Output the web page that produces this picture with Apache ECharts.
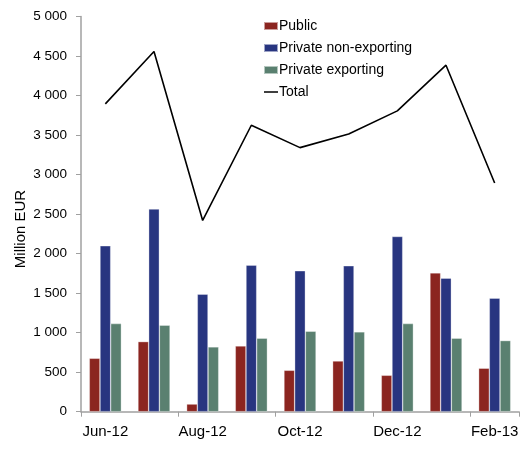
<!DOCTYPE html>
<html>
<head>
<meta charset="utf-8">
<script src="https://cdn.jsdelivr.net/npm/echarts@6/dist/echarts.min.js"></script>
<style>
  html, body { margin: 0; padding: 0; background: #fff; }
  #chart { width: 524px; height: 458px; }
</style>
</head>
<body>
<div id="chart"></div>
<script>
// Monthly flows by sector, million EUR
const months = ['Jun-12', 'Jul-12', 'Aug-12', 'Sep-12', 'Oct-12', 'Nov-12', 'Dec-12', 'Jan-13', 'Feb-13'];
const publicVals = [676, 887, 97, 832, 524, 642, 461, 1757, 550];
const privateNonExporting = [2099, 2564, 1487, 1855, 1783, 1846, 2217, 1690, 1437];
const privateExporting = [1115, 1094, 820, 930, 1018, 1010, 1115, 930, 900];
const totalVals = [3895, 4557, 2420, 3624, 3341, 3514, 3806, 4384, 2894];
const yTicks = { min: 0, max: 5000, step: 500 };

const font = 'Liberation Sans, Arial, sans-serif';
const chart = echarts.init(document.getElementById('chart'), null, { renderer: 'canvas' });

function fmtThousands(v) {
  return String(v).replace(/\B(?=(\d{3})+(?!\d))/g, ' ');
}

const barStyle = (color) => ({ color: color, borderColor: 'rgba(255,255,255,0.55)', borderWidth: 0.6 });

// thin horizontal stroke inside a 14x8 box, used as the legend key for the line series
const lineKey = 'path://M0,3.3H14V4.7H0Z M0,0H0.01V0.01H0Z M13.99,7.99H14V8H13.99Z';

chart.setOption({
  animation: false,
  backgroundColor: '#ffffff',
  textStyle: { fontFamily: font },
  grid: { left: 81, right: 5, top: 16.5, bottom: 46.3, containLabel: false },
  legend: {
    orient: 'vertical',
    left: 263,
    top: 19,
    padding: 0,
    itemWidth: 14,
    itemHeight: 8,
    itemGap: 8,
    textStyle: { fontFamily: font, fontSize: 14, color: '#000', lineHeight: 14, padding: [0, 0, 0, -4] },
    data: [
      { name: 'Public', icon: 'rect' },
      { name: 'Private non-exporting', icon: 'rect' },
      { name: 'Private exporting', icon: 'rect' },
      { name: 'Total', icon: lineKey }
    ]
  },
  graphic: [{
    type: 'text',
    x: 21,
    y: 229,
    rotation: Math.PI / 2,
    style: {
      text: 'Million EUR',
      fill: '#000',
      font: '15px ' + font,
      textAlign: 'center',
      textVerticalAlign: 'middle'
    }
  }],
  xAxis: {
    type: 'category',
    data: months,
    axisLine: { lineStyle: { color: '#a0a0a0', width: 1.5 } },
    axisTick: { show: true, length: 5, lineStyle: { color: '#a0a0a0' }, alignWithLabel: false },
    axisLabel: { interval: 1, color: '#000', fontSize: 15, fontFamily: font, margin: 13 }
  },
  yAxis: {
    type: 'value',
    min: yTicks.min,
    max: yTicks.max,
    interval: yTicks.step,
    splitLine: { show: false },
    axisLine: { show: true, lineStyle: { color: '#a0a0a0', width: 1.5 } },
    axisTick: { show: true, length: 5, lineStyle: { color: '#a0a0a0' } },
    axisLabel: { color: '#000', fontSize: 13.5, fontFamily: font, margin: 14, formatter: fmtThousands }
  },
  series: [
    {
      name: 'Public', type: 'bar', data: publicVals,
      barWidth: 10.7, barGap: '0%', itemStyle: barStyle('#8b2520')
    },
    {
      name: 'Private non-exporting', type: 'bar', data: privateNonExporting,
      barWidth: 10.7, barGap: '0%', itemStyle: barStyle('#283580')
    },
    {
      name: 'Private exporting', type: 'bar', data: privateExporting,
      barWidth: 10.7, barGap: '0%', itemStyle: barStyle('#5a8070')
    },
    {
      name: 'Total', type: 'line', data: totalVals,
      symbol: 'none', lineStyle: { color: '#000', width: 1.6 }, itemStyle: { color: '#000' }, z: 5
    }
  ]
});
</script>
</body>
</html>
